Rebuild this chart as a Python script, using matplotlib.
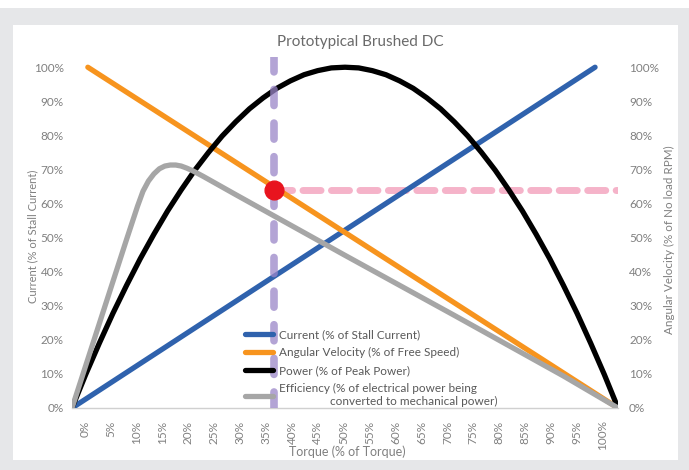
import matplotlib
matplotlib.use("Agg")
import matplotlib.pyplot as plt
from matplotlib.patches import Rectangle

plt.rcParams['font.family'] = ['Lato', 'DejaVu Sans']

# torque (% of stall torque) and the four curves (% values)
current_t = [0, 95.8]
current_v = [0, 100]

speed_t = [2.9, 100]
speed_v = [100, 0]

power_t = [0, 2.5, 5, 7.5, 10, 12.5, 15, 17.5, 20, 22.5, 25, 27.5, 30, 32.5, 35, 37.5,
           40, 42.5, 45, 47.5, 50, 52.5, 55, 57.5, 60, 62.5, 65, 67.5, 70, 72.5, 75,
           77.5, 80, 82.5, 85, 87.5, 90, 92.5, 95, 97.5, 100]
power_v = [0, 9.8, 19, 27.8, 36, 43.8, 51, 57.8, 64, 69.8, 75, 79.8, 84, 87.8, 91, 93.8,
           96, 97.8, 99, 99.8, 100, 99.8, 99, 97.8, 96, 93.8, 91, 87.8, 84, 79.8, 75,
           69.8, 64, 57.8, 51, 43.8, 36, 27.8, 19, 9.8, 0]

eff_t = [0, 2, 4, 6, 8, 10, 12, 13, 14, 15, 16, 17, 18, 19, 20, 21, 22, 24, 26, 30,
         40, 50, 60, 70, 80, 90, 100]
eff_v = [0, 9.9, 19.8, 29.7, 39.6, 49.5, 59.2, 63.6, 66.6, 68.7, 70.2, 71.0, 71.3, 71.3,
         71.0, 70.4, 69.7, 68.0, 66.2, 62.6, 53.7, 44.8, 36.0, 27.2, 18.3, 9.4, 0]

op_torque = 37
op_speed = 64

tick_labels = ['%d%%' % v for v in range(0, 101, 5)]
y_labels = ['%d%%' % v for v in range(0, 101, 10)]

fig = plt.figure(figsize=(6.89, 4.70), dpi=100)
fig.patch.set_facecolor('#e6e7e9')
fig.patches.append(Rectangle((13 / 689, 10 / 470), 665 / 689, 435 / 470,
                             transform=fig.transFigure, facecolor='white',
                             edgecolor='none', zorder=-2))
fig.patches.append(Rectangle((0, 462 / 470), 1, 8 / 470, transform=fig.transFigure,
                             facecolor='white', edgecolor='none', zorder=-2))

ax = fig.add_axes([72 / 689, 62 / 470, 546 / 689, 351 / 470])
ax.set_facecolor('none')
ax2 = ax.twinx()

lw = 3.8
ax.plot(current_t, current_v, color='#2f62ad', lw=lw, solid_capstyle='round',
        label='Current (% of Stall Current)', zorder=3)
ax.plot(speed_t, speed_v, color='#f7941e', lw=lw, solid_capstyle='round',
        label='Angular Velocity (% of Free Speed)', zorder=3)
ax.plot(power_t, power_v, color='black', lw=lw, solid_capstyle='round',
        label='Power (% of Peak Power)', zorder=3)
ax.plot(eff_t, eff_v, color='#a6a6a6', lw=lw, solid_capstyle='round',
        label='Efficiency (% of electrical power being\n'
              '                 converted to mechanical power)', zorder=3)

ax.axvline(op_torque, color='#9a86c8', alpha=0.75, lw=5.5, dashes=(2.1, 2.3),
           dash_capstyle='round', zorder=4)
ax.plot([op_torque, 100], [op_speed, op_speed], color='#f5b3c9', lw=5,
        dashes=(2.6, 1.5), dash_capstyle='round', zorder=2)
ax.plot([op_torque], [op_speed], 'o', color='#e8141e', ms=13.5, zorder=5)

ax.set_xlim(0, 100)
ax.set_ylim(0, 103)
ax2.set_ylim(0, 103)

# category labels sit on their own spacing, slightly inside the data range
ax.set_xticks([2.36 + 4.742 * i for i in range(21)])
ax.set_xticklabels(tick_labels, rotation=90, color='#808080', fontsize=8.5)
ax.set_yticks(range(0, 101, 10))
ax.set_yticklabels(y_labels, color='#808080', fontsize=8.5)
ax2.set_yticks(range(0, 101, 10))
ax2.set_yticklabels(y_labels, color='#808080', fontsize=8.5)
ax.tick_params(axis='x', length=0, pad=9)
ax.tick_params(axis='y', length=0, pad=6)
ax2.tick_params(axis='y', length=0, pad=8)

for a in (ax, ax2):
    for s in ('top', 'left', 'right', 'bottom'):
        a.spines[s].set_visible(False)
ax.spines['bottom'].set_visible(True)
ax.spines['bottom'].set_color('#d0d0d0')
ax.spines['bottom'].set_linewidth(1)

ax.set_xlabel('Torque (% of Torque)', color='#808080', fontsize=9)
ax.xaxis.set_label_coords(0.505, -0.125)
ax.xaxis.label.set_va('center')
ax.set_ylabel('Current (% of Stall Current)', color='#808080', fontsize=8)
ax.yaxis.set_label_coords(-0.0714, 0.49)
ax.yaxis.label.set_va('center')
ax2.set_ylabel('Angular Velocity (% of No load RPM)', color='#808080', fontsize=8.4)
ax2.yaxis.set_label_coords(1.095, 0.48)
ax2.yaxis.label.set_va('center')

fig.text(360 / 689, 1 - 42 / 470, 'Prototypical Brushed DC', ha='center', va='center',
         color='#6a6a6a', fontsize=11)

leg = ax.legend(loc='upper left', bbox_to_anchor=(0.317, 0.225), frameon=False,
                fontsize=8.5, handlelength=2.4, handletextpad=0.5, labelspacing=0.6,
                borderpad=0, borderaxespad=0)
for t in leg.get_texts():
    t.set_color('#595959')
leg.set_zorder(6)

fig.savefig('out.png', dpi=100, facecolor=fig.get_facecolor())
